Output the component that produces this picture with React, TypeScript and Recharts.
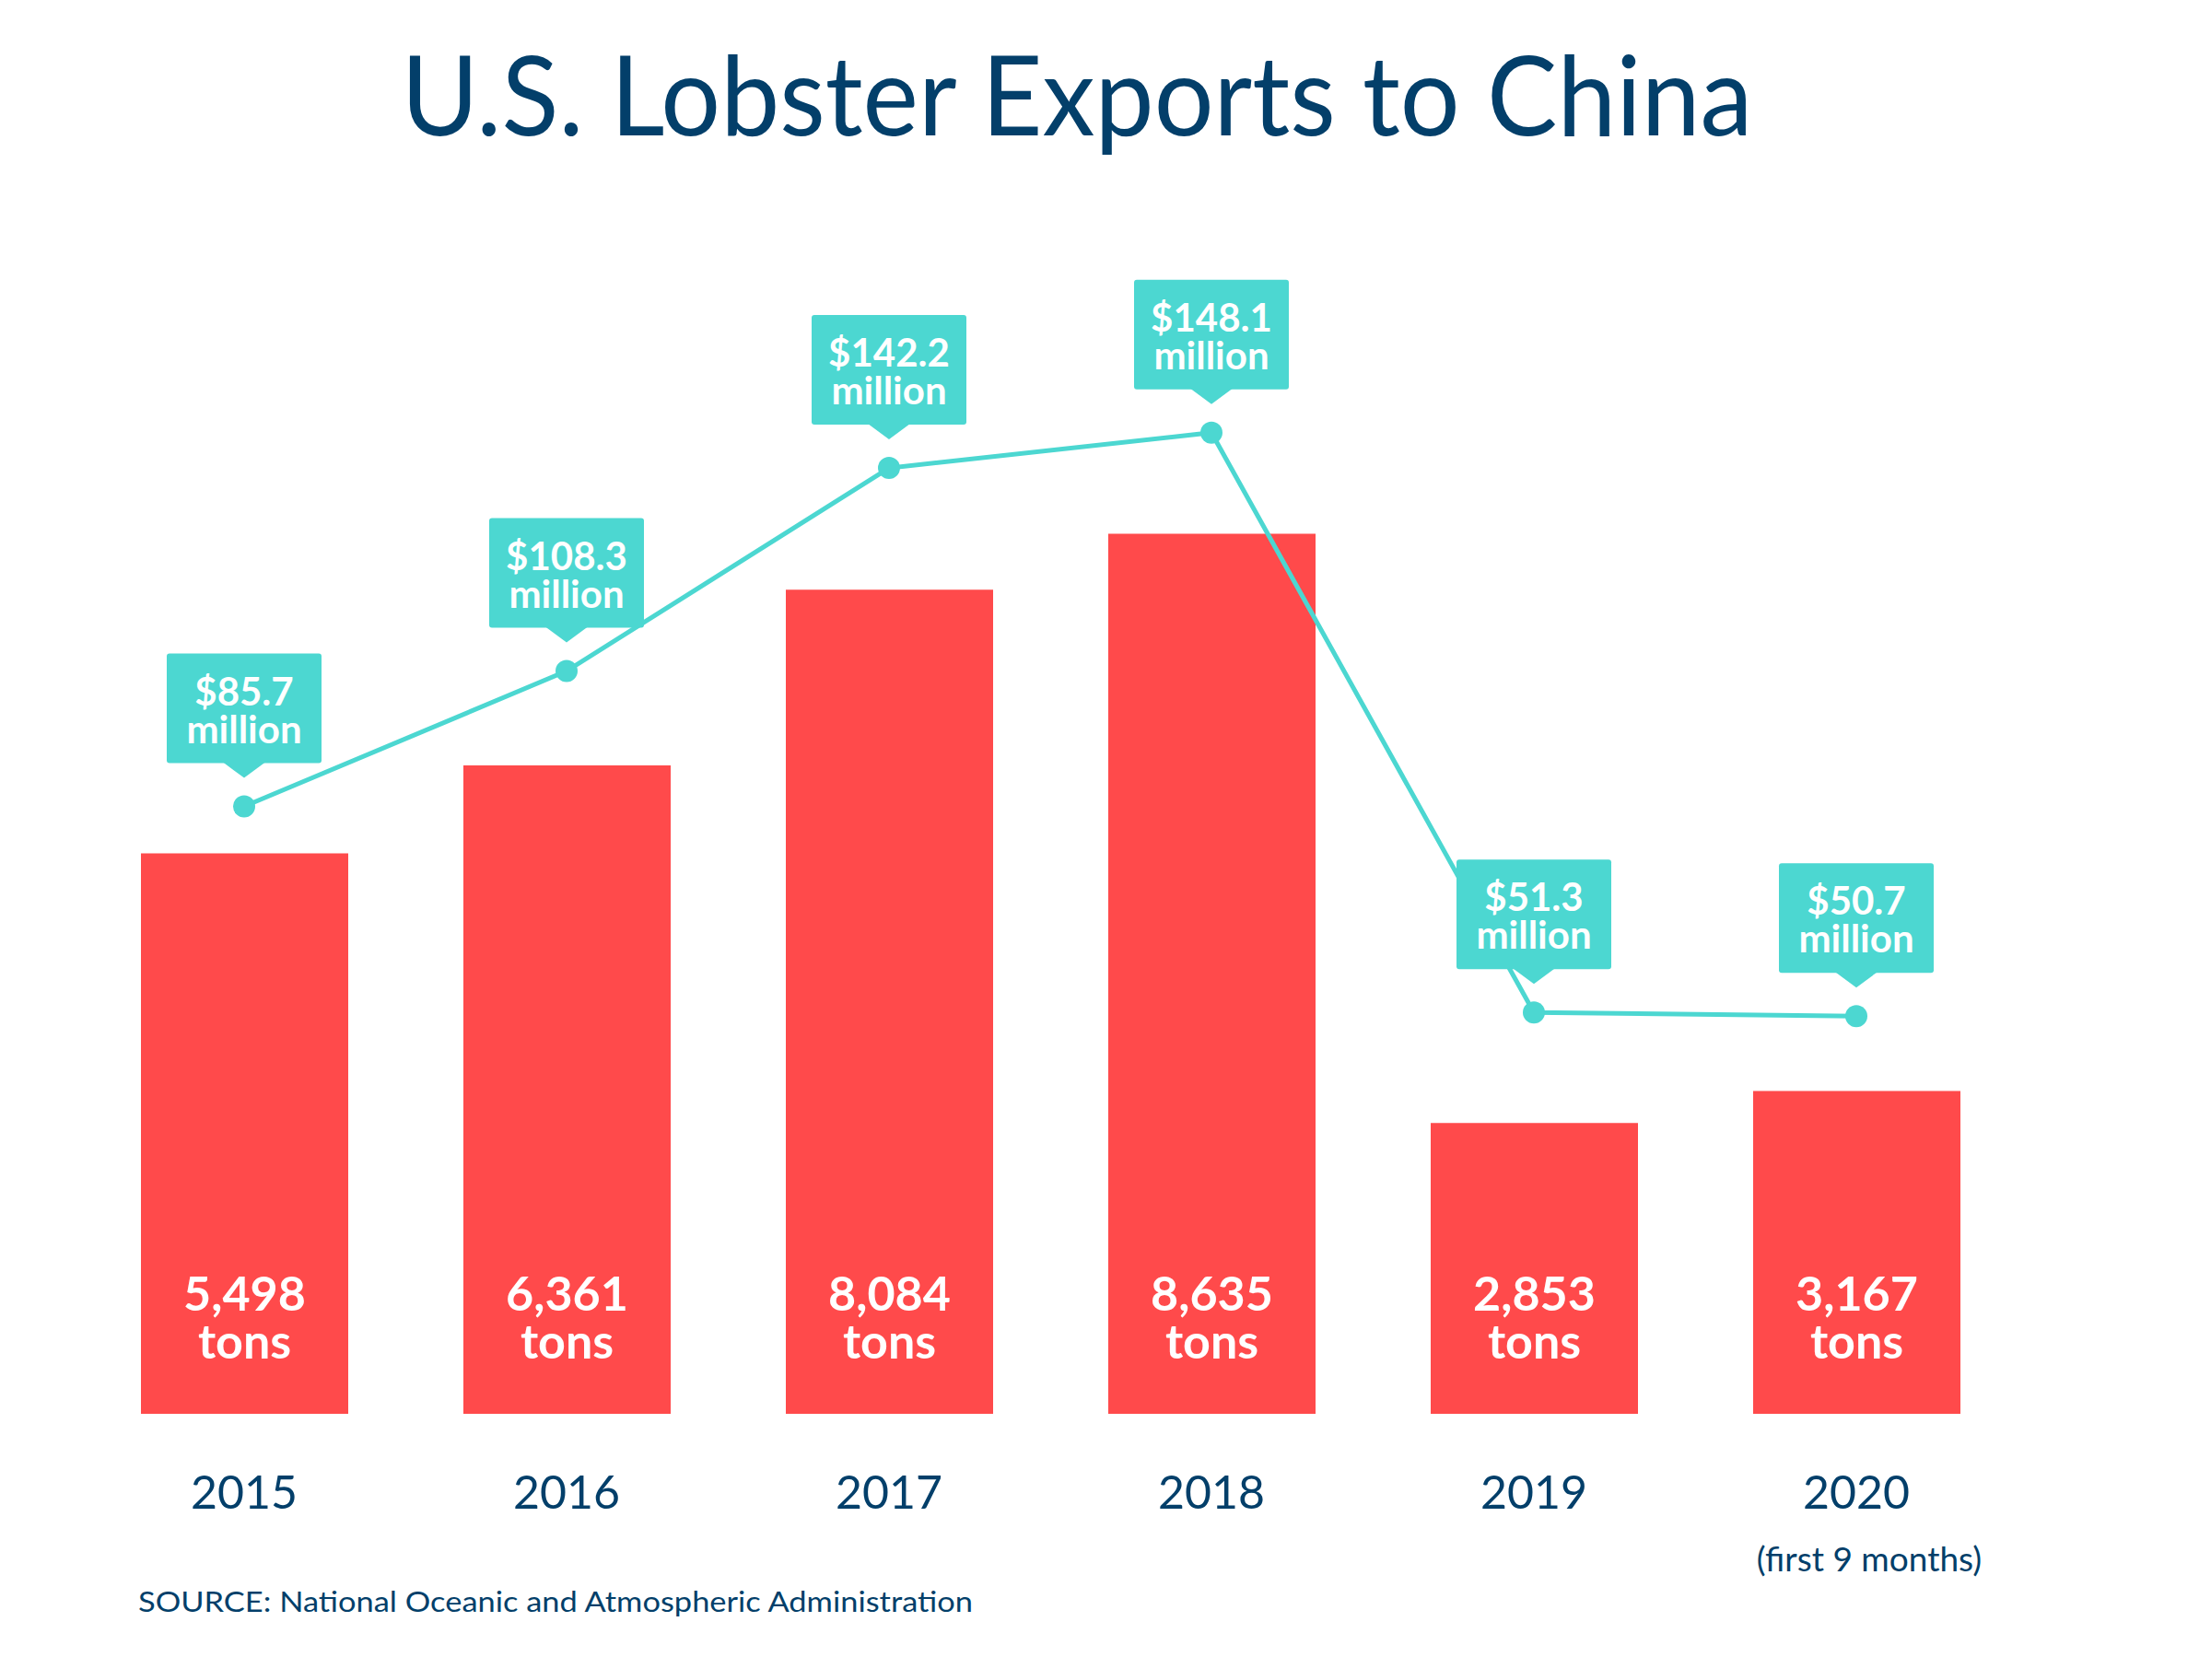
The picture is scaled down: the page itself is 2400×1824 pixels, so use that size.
import React from 'react';
import { ComposedChart, Bar, Line, XAxis, YAxis, LabelList } from 'recharts';

const years = ['2015', '2016', '2017', '2018', '2019', '2020'];
const tons = [5498, 6361, 8084, 8635, 2853, 3167];
const exportMillions = [85.7, 108.3, 142.2, 148.1, 51.3, 50.7];
const yearNotes = ['', '', '', '', '', '(first 9 months)'];

const data = years.map((year, i) => ({
  year,
  tons: tons[i],
  value: exportMillions[i],
  note: yearNotes[i],
}));

const NAVY = '#033f6a';
const RED = '#ff4a4b';
const TEAL = '#4cd7d1';
const FONT = 'Lato, "Open Sans", sans-serif';

// plot box
const PLOT_TOP = 207;
const PLOT_BOTTOM = 1535;
const X_AXIS_H = 150;

const YearTick = (props: any) => {
  const { x, payload, index } = props;
  const note = yearNotes[index];
  return (
    <g>
      <text x={x} y={PLOT_BOTTOM + 103} textAnchor="middle" fill={NAVY} fontSize={50} fontFamily={FONT}>
        {payload.value}
      </text>
      {note ? (
        <text x={x + 14} y={PLOT_BOTTOM + 171} textAnchor="middle" fill={NAVY} fontSize={37} fontFamily={FONT}>
          {note}
        </text>
      ) : null}
    </g>
  );
};

const TonsLabel = (props: any) => {
  const { x, y, width, height, value } = props;
  const cx = x + width / 2;
  const bottom = y + height;
  return (
    <g>
      <text x={cx} y={bottom - 112} textAnchor="middle" fill="#fff" fontSize={52} fontWeight={700} fontFamily={FONT}>
        {Number(value).toLocaleString('en-US')}
      </text>
      <text x={cx} y={bottom - 60} textAnchor="middle" fill="#fff" fontSize={52} fontWeight={700} fontFamily={FONT}>
        tons
      </text>
    </g>
  );
};

const ValueCallout = (props: any) => {
  const { x, y, value } = props;
  const top = y - 166;
  const boxBottom = top + 119;
  return (
    <g>
      <rect x={x - 84} y={top} width={168} height={119} rx={3} fill={TEAL} />
      <polygon points={`${x - 23},${boxBottom - 1} ${x + 23},${boxBottom - 1} ${x},${boxBottom + 16}`} fill={TEAL} />
      <text x={x} y={top + 56} textAnchor="middle" fill="#fff" fontSize={42} fontWeight={700} fontFamily={FONT}>
        {`$${Number(value).toFixed(1)}`}
      </text>
      <text x={x} y={top + 97} textAnchor="middle" fill="#fff" fontSize={42} fontWeight={700} fontFamily={FONT}>
        million
      </text>
    </g>
  );
};

export default function App() {
  return (
    <div style={{ position: 'absolute', left: 0, top: 0, width: 2400, height: 1824, background: '#fff' }}>
      <ComposedChart
        width={2400}
        height={1824}
        data={data}
        margin={{ top: PLOT_TOP, right: 210, left: 90, bottom: 1824 - PLOT_BOTTOM - X_AXIS_H }}
      >
        <XAxis dataKey="year" axisLine={false} tickLine={false} height={X_AXIS_H} tick={<YearTick />} interval={0} />
        <YAxis yAxisId="tons" hide domain={[0, 12000]} />
        <YAxis yAxisId="usd" hide orientation="right" domain={[-15.7, 188.5]} />
        <Bar yAxisId="tons" dataKey="tons" fill={RED} barSize={225} isAnimationActive={false}>
          <LabelList dataKey="tons" content={<TonsLabel />} />
        </Bar>
        <Line
          yAxisId="usd"
          type="linear"
          dataKey="value"
          stroke={TEAL}
          strokeWidth={5}
          dot={{ r: 12, fill: TEAL, stroke: TEAL, strokeWidth: 0 }}
          activeDot={false}
          isAnimationActive={false}
        >
          <LabelList dataKey="value" content={<ValueCallout />} />
        </Line>
      </ComposedChart>
      <svg width={2400} height={1824} style={{ position: 'absolute', left: 0, top: 0, pointerEvents: 'none' }}>
        <text
          x={1169}
          y={147}
          textAnchor="middle"
          fill={NAVY}
          fontSize={120}
          fontFamily={FONT}
          textLength={1467}
          lengthAdjust="spacingAndGlyphs"
        >
          U.S. Lobster Exports to China
        </text>
        <text x={150} y={1750} fill={NAVY} fontSize={31} fontFamily={FONT} textLength={906} lengthAdjust="spacingAndGlyphs">
          SOURCE: National Oceanic and Atmospheric Administration
        </text>
      </svg>
    </div>
  );
}
